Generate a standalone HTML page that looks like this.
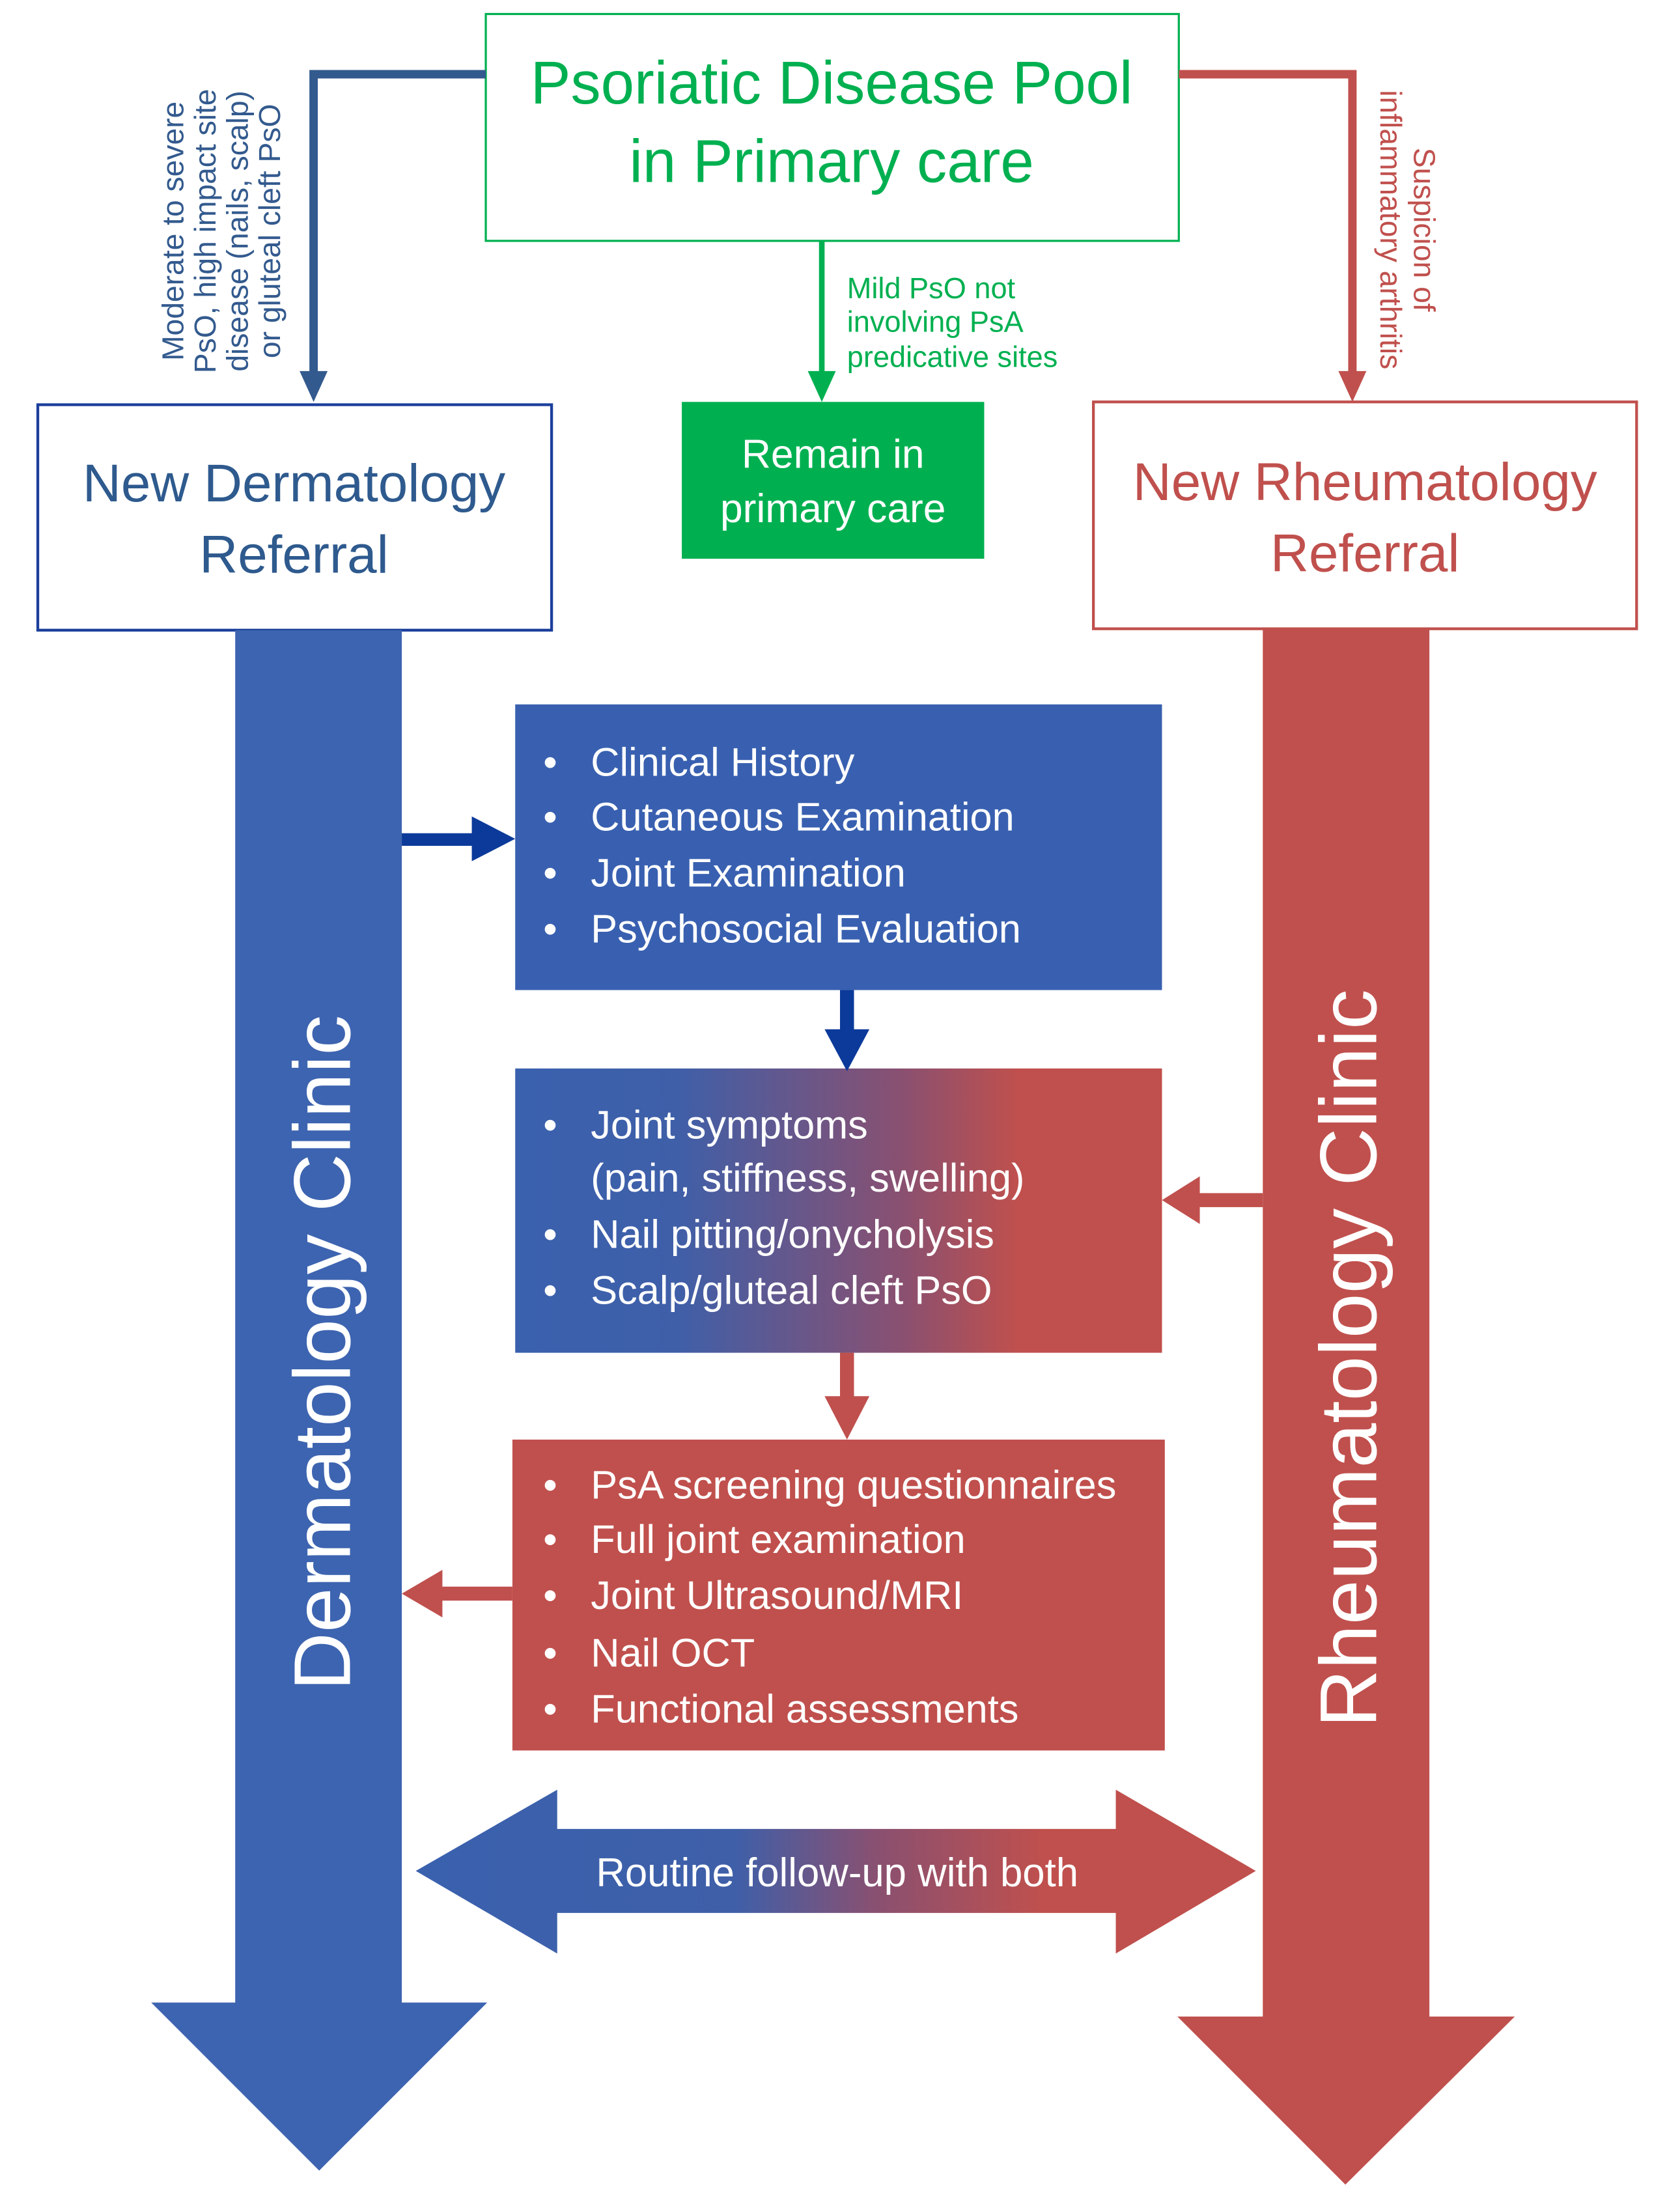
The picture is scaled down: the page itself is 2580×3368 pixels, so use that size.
<!DOCTYPE html>
<html><head><meta charset="utf-8"><style>html,body{margin:0;padding:0;background:#fff}svg{display:block}</style></head>
<body>
<svg width="2580" height="3368" viewBox="0 0 1200 1566" preserveAspectRatio="none" xmlns="http://www.w3.org/2000/svg" font-family="Liberation Sans, sans-serif">
<defs>
<linearGradient id="g1" x1="0" x2="1" y1="0" y2="0">
<stop offset="0" stop-color="#3a61ae"/><stop offset="0.25" stop-color="#3f5fa8"/><stop offset="0.6" stop-color="#8a5070"/><stop offset="0.78" stop-color="#c0504d"/><stop offset="1" stop-color="#c0504d"/></linearGradient>
<linearGradient id="g2" x1="297" x2="897" y1="0" y2="0" gradientUnits="userSpaceOnUse">
<stop offset="0" stop-color="#3a61ae"/><stop offset="0.38" stop-color="#3f5fa8"/><stop offset="0.55" stop-color="#8a5070"/><stop offset="0.75" stop-color="#c0504d"/><stop offset="1" stop-color="#c0504d"/></linearGradient>
</defs>
<rect x="347" y="10" width="495" height="162" fill="#fff" stroke="#00b050" stroke-width="1.5"/>
<text x="594" y="74" font-size="43" fill="#00b050" text-anchor="middle">Psoriatic Disease Pool</text>
<text x="594" y="130" font-size="43" fill="#00b050" text-anchor="middle">in Primary care</text>
<polyline points="347,53 224,53 224,270" fill="none" stroke="#335a8e" stroke-width="6"/>
<polygon points="214,265 234,265 224,287" fill="#335a8e"/>
<g font-size="21.5" fill="#335a8e" text-anchor="middle">
<text transform="translate(131,165) rotate(-90)">Moderate to severe</text>
<text transform="translate(154,165) rotate(-90)">PsO, high impact site</text>
<text transform="translate(177,165) rotate(-90)">disease (nails, scalp)</text>
<text transform="translate(200,165) rotate(-90)">or gluteal cleft PsO</text>
</g>
<polyline points="842,53 966,53 966,270" fill="none" stroke="#c0504d" stroke-width="6"/>
<polygon points="956,265 976,265 966,287" fill="#c0504d"/>
<g font-size="21.5" fill="#c0504d" text-anchor="middle">
<text transform="translate(1010,164) rotate(90)">Suspicion of</text>
<text transform="translate(986,164) rotate(90)">inflammatory arthritis</text>
</g>
<line x1="587" y1="172" x2="587" y2="270" stroke="#00b050" stroke-width="4"/>
<polygon points="577,265 597,265 587,287" fill="#00b050"/>
<g font-size="21" fill="#00b050"><text x="605" y="213">Mild PsO not</text><text x="605" y="237">involving PsA</text><text x="605" y="262">predicative sites</text></g>
<rect x="487" y="287" width="216" height="112" fill="#00b050"/>
<text x="595" y="334" font-size="29" fill="#fff" text-anchor="middle">Remain in</text>
<text x="595" y="373" font-size="29" fill="#fff" text-anchor="middle">primary care</text>
<rect x="27" y="289" width="367" height="161" fill="#fff" stroke="#1c3f9c" stroke-width="2"/>
<text x="210" y="358" font-size="38" fill="#2e5a8e" text-anchor="middle">New Dermatology</text>
<text x="210" y="409" font-size="38" fill="#2e5a8e" text-anchor="middle">Referral</text>
<rect x="781" y="287" width="388" height="162" fill="#fff" stroke="#c0504d" stroke-width="2"/>
<text x="975" y="357" font-size="38" fill="#c0504d" text-anchor="middle">New Rheumatology</text>
<text x="975" y="408" font-size="38" fill="#c0504d" text-anchor="middle">Referral</text>
<polygon points="168,450 287,450 287,1430 348,1430 228,1550 108,1430 168,1430" fill="#3d64b0"/>
<polygon points="902,448 1021,448 1021,1440 1082,1440 961,1560 841,1440 902,1440" fill="#c0504d"/>
<text transform="translate(250,966) rotate(-90)" font-size="57.5" fill="#fff" text-anchor="middle">Dermatology Clinic</text>
<text transform="translate(983,970) rotate(-90)" font-size="57.5" fill="#fff" text-anchor="middle">Rheumatology Clinic</text>
<rect x="368" y="503" width="462" height="204" fill="#3960b0"/>
<g font-size="28.5" fill="#fff">
<text x="388" y="554">•</text><text x="422" y="554">Clinical History</text>
<text x="388" y="593">•</text><text x="422" y="593">Cutaneous Examination</text>
<text x="388" y="633">•</text><text x="422" y="633">Joint Examination</text>
<text x="388" y="673">•</text><text x="422" y="673">Psychosocial Evaluation</text>
</g>
<rect x="368" y="763" width="462" height="203" fill="url(#g1)"/>
<g font-size="28.5" fill="#fff">
<text x="388" y="813">•</text><text x="422" y="813">Joint symptoms</text>
<text x="422" y="851">(pain, stiffness, swelling)</text>
<text x="388" y="891">•</text><text x="422" y="891">Nail pitting/onycholysis</text>
<text x="388" y="931">•</text><text x="422" y="931">Scalp/gluteal cleft PsO</text>
</g>
<rect x="366" y="1028" width="466" height="222" fill="#c0504d"/>
<g font-size="28.5" fill="#fff">
<text x="388" y="1070">•</text><text x="422" y="1070">PsA screening questionnaires</text>
<text x="388" y="1109">•</text><text x="422" y="1109">Full joint examination</text>
<text x="388" y="1149">•</text><text x="422" y="1149">Joint Ultrasound/MRI</text>
<text x="388" y="1190">•</text><text x="422" y="1190">Nail OCT</text>
<text x="388" y="1230">•</text><text x="422" y="1230">Functional assessments</text>
</g>
<rect x="287" y="595" width="52" height="9" fill="#0b3a9a"/>
<polygon points="337,583 368,599 337,615" fill="#0b3a9a"/>
<rect x="600" y="707" width="10" height="30" fill="#0b3a9a"/>
<polygon points="589,735 621,735 605,765" fill="#0b3a9a"/>
<rect x="855" y="852" width="47" height="10" fill="#c0504d"/>
<polygon points="857,840 830,857 857,874" fill="#c0504d"/>
<rect x="600" y="966" width="10" height="33" fill="#c0504d"/>
<polygon points="589,997 621,997 605,1028" fill="#c0504d"/>
<rect x="314" y="1133" width="52" height="10" fill="#c0504d"/>
<polygon points="316,1121 287,1138 316,1155" fill="#c0504d"/>
<polygon points="297,1336 398,1278 398,1306 797,1306 797,1278 897,1336 797,1395 797,1366 398,1366 398,1395" fill="url(#g2)"/>
<text x="598" y="1347" font-size="28.7" fill="#fff" text-anchor="middle">Routine follow-up with both</text>
</svg>
</body></html>
